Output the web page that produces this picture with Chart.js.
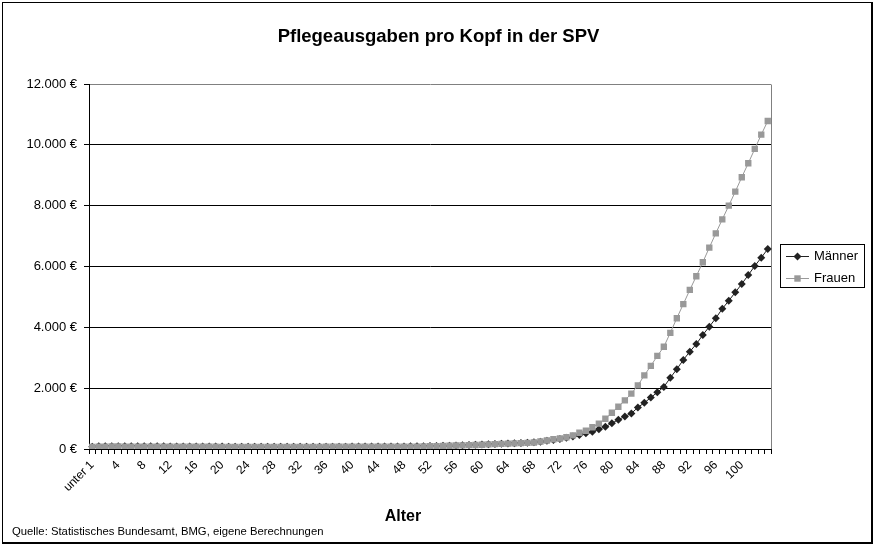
<!DOCTYPE html>
<html><head><meta charset="utf-8">
<script src="https://cdn.jsdelivr.net/npm/chart.js@4.4.1/dist/chart.umd.min.js"></script>
<style>
html,body{margin:0;padding:0;background:#fff;}
#wrap{position:relative;width:877px;height:547px;overflow:hidden;background:#fff;}
#frame{position:absolute;left:2px;top:2px;width:868px;height:539px;border-left:1px solid #000;border-top:1px solid #000;border-right:2px solid #000;border-bottom:2px solid #000;}
canvas{position:absolute;left:0;top:0;}
</style></head>
<body><div id="wrap"><div id="frame"></div><canvas id="c" width="877" height="547"></canvas></div>
<script>
const chartTitle = 'Pflegeausgaben pro Kopf in der SPV';
const xTitle = 'Alter';
const sourceNote = 'Quelle: Statistisches Bundesamt, BMG, eigene Berechnungen';
const seriesNames = ['Männer', 'Frauen'];

const categories = ['unter 1',
 '1','2','3','4','5','6','7','8','9','10',
 '11','12','13','14','15','16','17','18','19','20',
 '21','22','23','24','25','26','27','28','29','30',
 '31','32','33','34','35','36','37','38','39','40',
 '41','42','43','44','45','46','47','48','49','50',
 '51','52','53','54','55','56','57','58','59','60',
 '61','62','63','64','65','66','67','68','69','70',
 '71','72','73','74','75','76','77','78','79','80',
 '81','82','83','84','85','86','87','88','89','90',
 '91','92','93','94','95','96','97','98','99','100',
 '101','102','103','104'];

const maenner = [75,
 90,90,92,92,92,90,90,90,88,88,
 88,86,86,86,85,84,83,82,80,80,
 78,78,78,76,76,76,76,76,76,76,
 76,76,76,76,76,77,77,78,78,79,
 80,80,81,82,83,84,85,86,88,90,
 92,96,100,105,110,118,124,132,138,145,
 155,165,172,180,190,198,205,218,240,268,
 300,330,370,410,460,515,570,650,735,845,
 965,1070,1170,1365,1520,1690,1865,2040,2340,2625,
 2930,3200,3450,3750,4020,4300,4610,4875,5150,5425,
 5720,6015,6290,6575];

const frauen = [70,
 80,80,82,82,80,80,80,78,78,78,
 78,76,76,76,75,75,74,74,74,72,
 72,72,72,72,72,72,72,72,72,72,
 72,72,72,72,72,74,74,74,75,75,
 76,76,77,78,78,79,80,80,80,80,
 82,90,95,100,105,115,120,128,132,140,
 150,160,167,175,185,195,200,215,245,280,
 320,345,385,450,535,600,715,835,995,1190,
 1390,1600,1820,2090,2420,2735,3060,3360,3820,4300,
 4765,5230,5680,6140,6620,7090,7550,8000,8460,8935,
 9395,9865,10335,10785];

const yTicks = [0, 2000, 4000, 6000, 8000, 10000, 12000];
const shownXLabels = ['unter 1','4','8','12','16','20','24','28','32','36','40','44','48','52',
 '56','60','64','68','72','76','80','84','88','92','96','100'];

const FONT = "'Liberation Sans', Arial, sans-serif";
Chart.defaults.font.family = FONT;
Chart.defaults.color = '#000';

function euro(v){ return String(v).replace(/\B(?=(\d{3})+(?!\d))/g, '.') + ' €'; }

const mColor = '#222222';
const fColor = '#999999';

const extras = {
  id: 'extras',
  beforeDatasetsDraw(chart){
    const {ctx, chartArea:a} = chart;
    ctx.save();
    ctx.strokeStyle = '#808080'; ctx.lineWidth = 1;
    ctx.beginPath();
    ctx.moveTo(Math.round(a.right)+0.5, Math.round(a.top)+0.5);
    ctx.lineTo(Math.round(a.right)+0.5, Math.round(a.bottom));
    ctx.stroke();
    ctx.restore();
  },
  afterDraw(chart){
    const ctx = chart.ctx;
    ctx.save();
    // title
    ctx.fillStyle = '#000';
    ctx.font = 'bold 18.5px ' + FONT;
    ctx.textAlign = 'center'; ctx.textBaseline = 'middle';
    ctx.fillText(chartTitle, 438.5, 37);
    // axis title
    ctx.font = 'bold 16px ' + FONT;
    ctx.fillText(xTitle, 403, 517);
    // legend
    const lx = 780.5, ly = 244.5, lw = 84, lh = 43;
    ctx.fillStyle = '#fff'; ctx.fillRect(lx, ly, lw, lh);
    ctx.strokeStyle = '#000'; ctx.lineWidth = 1; ctx.strokeRect(lx, ly, lw, lh);
    const rows = [
      {name: seriesNames[0], color: mColor, y: 256.5, style: 'diamond'},
      {name: seriesNames[1], color: fColor, y: 278.5, style: 'square'}
    ];
    rows.forEach(r => {
      ctx.strokeStyle = r.color; ctx.lineWidth = 1;
      ctx.beginPath(); ctx.moveTo(786, r.y); ctx.lineTo(809, r.y); ctx.stroke();
      ctx.fillStyle = r.color;
      const cx = 797.5, cy = r.y;
      if (r.style === 'diamond') {
        ctx.beginPath(); ctx.moveTo(cx, cy-4); ctx.lineTo(cx+4, cy); ctx.lineTo(cx, cy+4); ctx.lineTo(cx-4, cy); ctx.closePath(); ctx.fill();
      } else {
        ctx.fillRect(cx-3.2, cy-3.2, 6.4, 6.4);
      }
      ctx.fillStyle = '#000';
      ctx.font = '13px ' + FONT;
      ctx.textBaseline = 'middle'; ctx.textAlign = 'left';
      ctx.fillText(r.name, 814, r.y);
    });
    // source
    ctx.font = '11.3px ' + FONT;
    ctx.fillStyle = '#000';
    ctx.textBaseline = 'middle'; ctx.textAlign = 'left';
    ctx.fillText(sourceNote, 12, 532);
    ctx.restore();
  }
};

new Chart(document.getElementById('c'), {
  type: 'line',
  data: {
    labels: categories,
    datasets: [
      {label: seriesNames[0], data: maenner, borderColor: mColor, backgroundColor: mColor, borderWidth: 1,
       pointStyle: 'rectRot', pointRadius: 4, pointBorderWidth: 0, pointBackgroundColor: mColor, order: 1, tension: 0},
      {label: seriesNames[1], data: frauen, borderColor: fColor, backgroundColor: fColor, borderWidth: 1,
       pointStyle: 'rect', pointRadius: 4.5, pointBorderWidth: 0, pointBackgroundColor: fColor, order: 0, tension: 0}
    ]
  },
  options: {
    responsive: false,
    animation: false,
    devicePixelRatio: 1,
    layout: {padding: {left: 0, right: 106, top: 84, bottom: 0}},
    plugins: {
      legend: {display: false},
      tooltip: {enabled: false},
      title: {display: false}
    },
    scales: {
      x: {
        type: 'category', offset: true,
        grid: {offset: true, drawOnChartArea: false, drawTicks: true, tickLength: 5, color: '#000'},
        border: {color: '#000', width: 1},
        ticks: {autoSkip: false, minRotation: 45, maxRotation: 45, padding: 4, font: {size: 12}, color: '#000',
                callback: (v, i) => (shownXLabels.includes(categories[i]) ? categories[i] : '')},
        title: {display: false},
        afterFit: s => { s.height = 98; }
      },
      y: {
        min: 0, max: 12000,
        afterBuildTicks: s => { s.ticks = yTicks.map(v => ({value: v})); },
        ticks: {padding: 7, font: {size: 13}, color: '#000', callback: v => euro(v)},
        grid: {color: c => (c.tick && c.tick.value === 12000 ? '#808080' : '#000'), tickColor: '#000', tickLength: 5, drawTicks: true},
        border: {color: '#000', width: 1},
        afterFit: s => { s.width = 89; }
      }
    }
  },
  plugins: [extras]
});
</script>
</body></html>
